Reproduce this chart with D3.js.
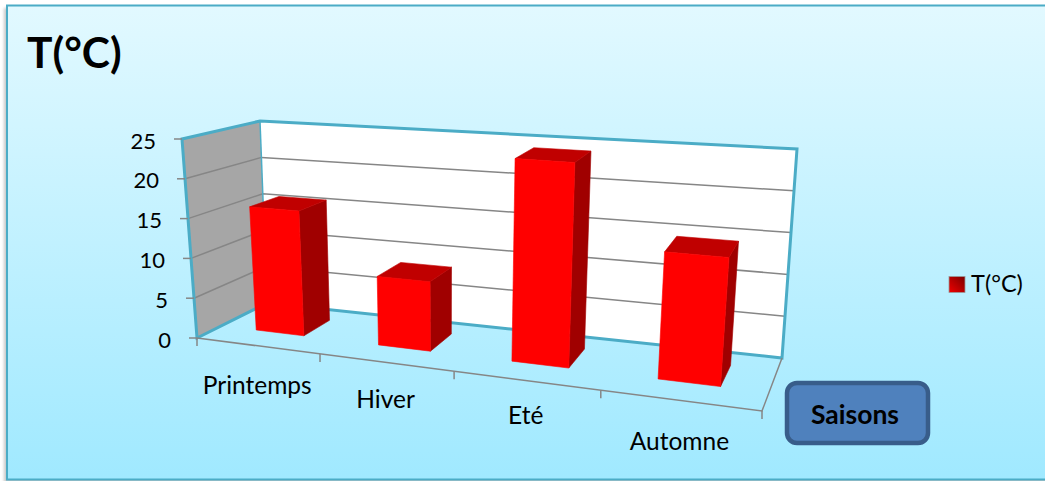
<!DOCTYPE html>
<html lang="fr">
<head>
<meta charset="utf-8">
<title>T(°C) par saison</title>
<script src="https://cdn.jsdelivr.net/npm/d3@7"></script>
<style>
  html, body { margin: 0; padding: 0; background: #fff; }
  svg { display: block; }
  text { font-family: Lato, "Open Sans", sans-serif; fill: #000; }
</style>
</head>
<body>
<div id="chart"></div>
<script>
const categories = ["Printemps", "Hiver", "Eté", "Automne"];
const temperatures = [15.8, 8.5, 24.3, 14.7];
const valueTicks = [0, 5, 10, 15, 20, 25];
const seriesName = "T(°C)";
const axisTitle = "Saisons";
// Distance from the floor edge down to each category label's baseline
const labelDrop = [48, 46, 44, 50];

const width = 1045, height = 481;

// Corners of the 3D plot box on screen: floor and ceiling, front and back.
const box = {
  floorFrontLeft: [197, 338], floorFrontRight: [762, 411],
  floorBackLeft: [267, 303], floorBackRight: [782, 358],
  topFrontLeft: [182, 139], topFrontRight: [780, 182],
  topBackLeft: [260, 121], topBackRight: [797, 149]
};
const foreshorten = 0.835;   // right-hand categories sit closer to the viewer
const barDepth = [0.35, 0.76];

const lerp = (a, b, t) => [a[0] + (b[0] - a[0]) * t, a[1] + (b[1] - a[1]) * t];

const xScale = d3.scaleBand().domain(categories).range([0, 1]).paddingInner(0.6).paddingOuter(0.3);
const slotScale = d3.scalePoint().domain(d3.range(categories.length + 1)).range([0, 1]);
const yScale = d3.scaleLinear().domain([0, 25]).range([0, 1]);

// Maps (u along categories, d into the depth, h up the value axis) to the screen.
function project(u, d, h) {
  const s = foreshorten * u / (foreshorten * u + 1 - u);
  const floor = lerp(lerp(box.floorFrontLeft, box.floorFrontRight, s), lerp(box.floorBackLeft, box.floorBackRight, s), d);
  const top = lerp(lerp(box.topFrontLeft, box.topFrontRight, s), lerp(box.topBackLeft, box.topBackRight, s), d);
  return lerp(floor, top, h);
}
const path = pts => "M" + pts.map(p => p[0].toFixed(2) + "," + p[1].toFixed(2)).join("L") + "Z";
const open = pts => "M" + pts.map(p => p[0].toFixed(2) + "," + p[1].toFixed(2)).join("L");

const svg = d3.select("#chart").append("svg").attr("width", width).attr("height", height);
const defs = svg.append("defs");

const bg = defs.append("linearGradient").attr("id", "panel").attr("x1", 0).attr("y1", 0).attr("x2", 0).attr("y2", 1);
bg.append("stop").attr("offset", 0).attr("stop-color", "#e2f9ff");
bg.append("stop").attr("offset", 1).attr("stop-color", "#a0e9ff");

const key = defs.append("linearGradient").attr("id", "key").attr("x1", 0).attr("y1", 1).attr("x2", 1).attr("y2", 0);
key.append("stop").attr("offset", 0).attr("stop-color", "#f00000");
key.append("stop").attr("offset", 1).attr("stop-color", "#7a0000");

defs.append("filter").attr("id", "soft").attr("x", "-2%").attr("y", "-2%").attr("width", "104%").attr("height", "104%")
  .append("feGaussianBlur").attr("stdDeviation", 1.5);

// Panel with a faint shadow along its left edge
svg.append("rect").attr("x", 4).attr("y", 8).attr("width", 1045).attr("height", 480)
  .attr("fill", "#b0b0b0").attr("opacity", 0.7).attr("filter", "url(#soft)");
svg.append("rect").attr("x", 7).attr("y", 5.5).attr("width", 1045).attr("height", 474)
  .attr("fill", "url(#panel)").attr("stroke", "#4bacc6").attr("stroke-width", 2);

const wallColor = "#4bacc6", gridColor = "#868686";
const plot = svg.append("g");

// Walls
plot.append("path").attr("fill", "#a6a6a6")
  .attr("d", path([project(0, 0, 0), project(0, 0, 1), project(0, 1, 1), project(0, 1, 0)]));
plot.append("path").attr("fill", "#fff")
  .attr("d", path([project(0, 1, 0), project(0, 1, 1), project(1, 1, 1), project(1, 1, 0)]));

// Gridlines across both walls
plot.append("g").selectAll("path").data(valueTicks.filter(v => v > 0 && v < 25)).join("path")
  .attr("fill", "none").attr("stroke", gridColor).attr("stroke-width", 1.5)
  .attr("d", v => open([project(0, 0, yScale(v)), project(0, 1, yScale(v)), project(1, 1, yScale(v))]));

// Wall outlines
plot.append("path").attr("fill", "none").attr("stroke", wallColor).attr("stroke-width", 3)
  .attr("stroke-linejoin", "miter")
  .attr("d", path([project(0, 0, 0), project(0, 0, 1), project(0, 1, 1), project(1, 1, 1), project(1, 1, 0), project(0, 1, 0)]));
plot.append("path").attr("fill", "none").attr("stroke", wallColor).attr("stroke-width", 1.5)
  .attr("d", open([project(0, 1, 1), project(0, 1, 0)]));

// Floor edges and tick marks
plot.append("path").attr("fill", "none").attr("stroke", gridColor).attr("stroke-width", 1.5)
  .attr("d", open([project(0, 0, 0), project(1, 0, 0), project(1, 1, 0)]));
plot.append("g").selectAll("path").data(slotScale.domain()).join("path")
  .attr("fill", "none").attr("stroke", gridColor).attr("stroke-width", 1.5)
  .attr("d", i => {
    const p = project(slotScale(i), 0, 0);
    return open([p, [p[0], p[1] + 8]]);
  });
plot.append("g").selectAll("path").data(valueTicks).join("path")
  .attr("fill", "none").attr("stroke", gridColor).attr("stroke-width", 1.5)
  .attr("d", v => {
    const p = project(0, 0, yScale(v));
    return open([[p[0] - 8, p[1]], p]);
  });

// Bars: top and side faces first, then the front
const bars = plot.append("g").selectAll("g").data(categories).join("g");
const corners = c => {
  const i = categories.indexOf(c);
  const u0 = xScale(c), u1 = u0 + xScale.bandwidth();
  const h = yScale(temperatures[i]);
  const [d0, d1] = barDepth;
  return { u0, u1, h, d0, d1 };
};
bars.append("path").attr("fill", "#a00000").attr("stroke", "#a00000").attr("stroke-width", 0.6).attr("d", c => {
  const { u1, h, d0, d1 } = corners(c);
  return path([project(u1, d0, 0), project(u1, d0, h), project(u1, d1, h), project(u1, d1, 0)]);
});
bars.append("path").attr("fill", "#c00000").attr("stroke", "#c00000").attr("stroke-width", 0.6).attr("d", c => {
  const { u0, u1, h, d0, d1 } = corners(c);
  return path([project(u0, d0, h), project(u1, d0, h), project(u1, d1, h), project(u0, d1, h)]);
});
bars.append("path").attr("fill", "#ff0000").attr("stroke", "#ff0000").attr("stroke-width", 0.6).attr("d", c => {
  const { u0, u1, h, d0 } = corners(c);
  return path([project(u0, d0, 0), project(u1, d0, 0), project(u1, d0, h), project(u0, d0, h)]);
});

// Value labels
plot.append("g").selectAll("text").data(valueTicks).join("text")
  .attr("font-size", 22).attr("text-anchor", "end").attr("dominant-baseline", "central")
  .attr("x", v => project(0, 0, yScale(v))[0] - 26)
  .attr("y", v => project(0, 0, yScale(v))[1] + 1)
  .text(v => v);

// Category labels
plot.append("g").selectAll("text").data(categories).join("text")
  .attr("font-size", 24.5).attr("text-anchor", "middle")
  .attr("x", c => project(xScale(c) + xScale.bandwidth() / 2, 0, 0)[0])
  .attr("y", (c, i) => project(xScale(c) + xScale.bandwidth() / 2, 0, 0)[1] + labelDrop[i])
  .text(c => c);

// Title
svg.append("text").attr("x", 27).attr("y", 68).attr("font-size", 42.5).attr("font-weight", 700).text(seriesName);

// Axis title box
svg.append("rect").attr("x", 787).attr("y", 383).attr("width", 141).attr("height", 60).attr("rx", 10)
  .attr("fill", "#4f81bd").attr("stroke", "#385d8a").attr("stroke-width", 4.5);
svg.append("text").attr("x", 855).attr("y", 424).attr("text-anchor", "middle")
  .attr("font-size", 26.5).attr("font-weight", 700).text(axisTitle);

// Legend
svg.append("rect").attr("x", 949).attr("y", 276.5).attr("width", 16).attr("height", 16)
  .attr("fill", "url(#key)").attr("stroke", "#999").attr("stroke-width", 0.8);
svg.append("text").attr("x", 971).attr("y", 292).attr("font-size", 23.5).text(seriesName);
</script>
</body>
</html>
